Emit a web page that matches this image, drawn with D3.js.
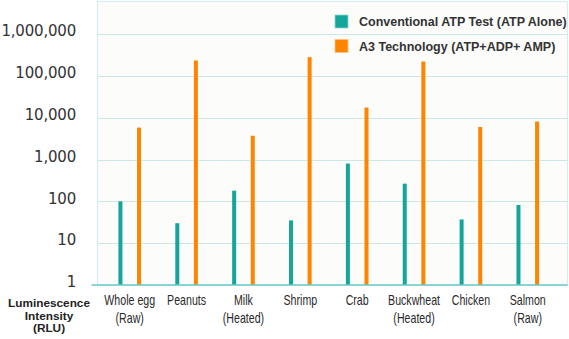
<!DOCTYPE html>
<html><head><meta charset="utf-8">
<script src="https://cdn.jsdelivr.net/npm/d3@7"></script>
<style>body{margin:0;background:#fff}svg{display:block}</style>
</head><body><svg id="c" width="569" height="339"></svg>
<script>
const categories = [["Whole egg","(Raw)"],["Peanuts"],["Milk","(Heated)"],["Shrimp"],["Crab"],["Buckwheat","(Heated)"],["Chicken"],["Salmon","(Raw)"]];
const atpAlone = [100, 30, 180, 35, 800, 265, 37, 82];
const a3Tech = [5800, 233000, 3700, 280000, 17500, 220000, 6000, 8100];
const yTicks = [1, 10, 100, 1000, 10000, 100000, 1000000];
const seriesNames = ["Conventional ATP Test (ATP Alone)", "A3 Technology (ATP+ADP+ AMP)"];
const colors = ["#14a69a", "#ff8400"];

const svg = d3.select("#c");
const plotL = 97.5, plotR = 567.5, plotT = 1.5, plotB = 285;
const y = d3.scaleLog().domain([1, 6000000]).range([plotB, plotT]);
const x = d3.scaleBand().domain(d3.range(categories.length)).range([101.3, 556.2]);

// plot background
svg.append("rect").attr("x", plotL).attr("y", plotT).attr("width", plotR - plotL).attr("height", plotB - plotT)
  .attr("fill", "#fcfcfb").attr("stroke", "#d3eeee").attr("stroke-width", 1.2);

// gridlines
svg.append("g").selectAll("line").data(yTicks.slice(1)).join("line")
  .attr("x1", plotL).attr("x2", plotR).attr("y1", d => Math.round(y(d)) + 0.5).attr("y2", d => Math.round(y(d)) + 0.5)
  .attr("stroke", "#c9e8e6").attr("stroke-width", 1.2);

// y labels
const fmt = d3.format(",");
svg.append("g").selectAll("text").data(yTicks).join("text")
  .attr("x", 76).attr("y", d => y(d) - 3).attr("dy", "0.35em").attr("text-anchor", "end")
  .attr("font-family", "DejaVu Sans, sans-serif").attr("font-size", 15).attr("fill", "#333")
  .attr("letter-spacing", "-0.2")
  .text(d => fmt(d));

// bars
const bw = 4;
const cx = i => x(i) + x.bandwidth() / 2;
svg.append("g").selectAll("rect").data(atpAlone).join("rect")
  .attr("x", (d, i) => cx(i) - 9.3 - bw / 2).attr("width", bw)
  .attr("y", d => y(d)).attr("height", d => plotB - y(d)).attr("fill", colors[0]);
svg.append("g").selectAll("rect").data(a3Tech).join("rect")
  .attr("x", (d, i) => cx(i) + 9.3 - bw / 2).attr("width", bw)
  .attr("y", d => y(d)).attr("height", d => plotB - y(d)).attr("fill", colors[1]);

// baseline
svg.append("line").attr("x1", plotL - 6).attr("x2", plotR).attr("y1", plotB).attr("y2", plotB)
  .attr("stroke", "#6cc8c8").attr("stroke-width", 1.5);

// x labels (condensed look)
const xl = svg.append("g").selectAll("text").data(categories).join("text")
  .attr("text-anchor", "middle").attr("font-family", "Liberation Sans, Arial, sans-serif")
  .attr("font-size", 14).attr("fill", "#2a2a2a")
  .attr("transform", (d, i) => `translate(${cx(i)},305) scale(0.76,1)`);
xl.selectAll("tspan").data(d => d).join("tspan").attr("x", 0).attr("dy", (d, j) => j === 0 ? 0 : 18).text(d => d);

// y axis title
const yt = svg.append("text").attr("text-anchor", "middle").attr("font-family", "Liberation Sans, Arial, sans-serif")
  .attr("font-weight", "bold").attr("font-size", 11.8).attr("fill", "#222").attr("transform", "translate(49,307)");
yt.selectAll("tspan").data(["Luminescence", "Intensity", "(RLU)"]).join("tspan")
  .attr("x", 0).attr("dy", (d, j) => j === 0 ? 0 : 12.5).text(d => d);

// legend
const lg = svg.append("g").selectAll("g").data(seriesNames).join("g")
  .attr("transform", (d, i) => `translate(335,${15 + i * 24.5})`);
lg.append("rect").attr("width", 13).attr("height", 13).attr("fill", (d, i) => colors[i])
  .attr("stroke", (d, i) => i === 0 ? "#8fd6d0" : "#ffc080").attr("stroke-width", 0.8);
lg.append("text").attr("x", 24).attr("y", 11).attr("font-family", "Liberation Sans, Arial, sans-serif")
  .attr("font-weight", "bold").attr("font-size", 12.5).attr("fill", "#333").text(d => d);
</script></body></html>
